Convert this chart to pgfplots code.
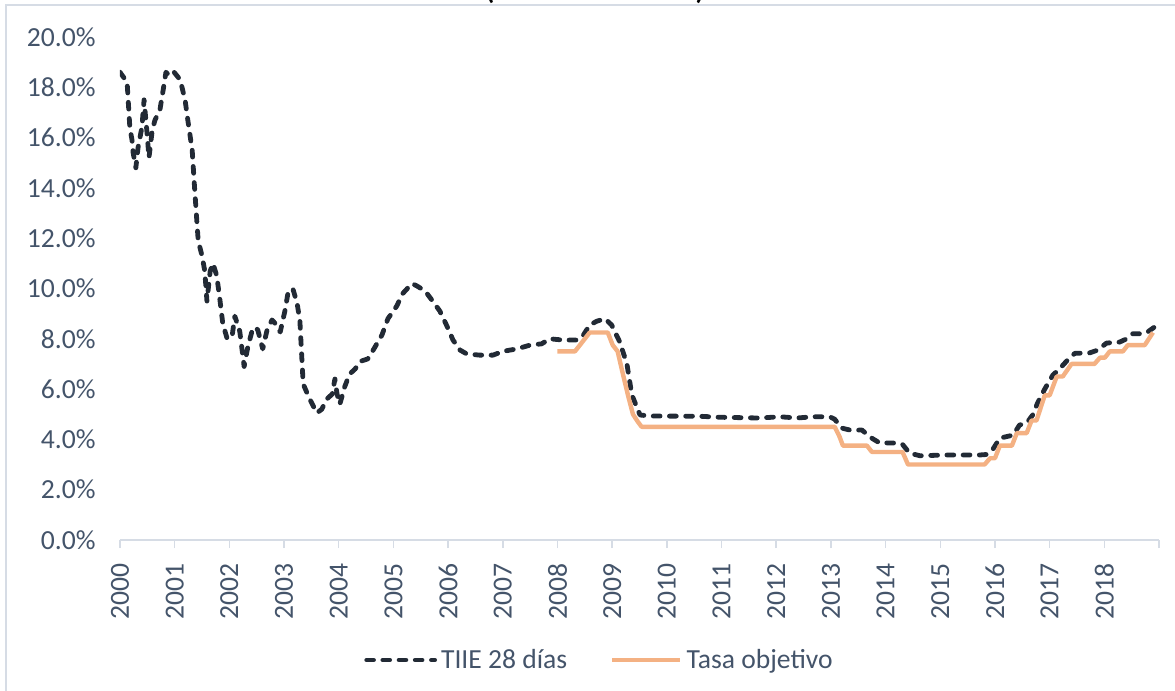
\documentclass[border=0pt]{standalone}
\usepackage{fontspec}
\setmainfont{Carlito}
\usepackage{pgfplots}
\pgfplotsset{compat=1.18}
\definecolor{tiie}{HTML}{222A35}
\definecolor{obj}{HTML}{F4B183}
\definecolor{lbl}{HTML}{44546A}
\definecolor{axl}{HTML}{D6DCE5}
\newcommand{\lblfont}{\fontsize{13.8}{16}\selectfont}
\begin{document}
\begin{tikzpicture}
\begin{axis}[
  scale only axis, width=519.5pt, height=251.5pt,
  xmin=2000, xmax=2019, ymin=0, ymax=20,
  axis lines*=left,
  x axis line style={-, draw=axl, line width=0.75pt},
  y axis line style={draw=none},
  ytick={0,2,4,6,8,10,12,14,16,18,20},
  yticklabels={0.0\%,2.0\%,4.0\%,6.0\%,8.0\%,10.0\%,12.0\%,14.0\%,16.0\%,18.0\%,20.0\%},
  ytick style={draw=none},
  xtick={2000,2001,2002,2003,2004,2005,2006,2007,2008,2009,2010,2011,2012,2013,2014,2015,2016,2017,2018,2019},
  xticklabels={2000,2001,2002,2003,2004,2005,2006,2007,2008,2009,2010,2011,2012,2013,2014,2015,2016,2017,2018,{}},
  xtick style={draw=axl, line width=0.75pt},
  tick align=outside, major tick length=4pt,
  xticklabel shift=7.5pt,
  yticklabel shift=8pt,
  xticklabel style={rotate=90, anchor=east, inner sep=0pt, text=lbl, font=\lblfont},
  yticklabel style={anchor=east, inner sep=0pt, text=lbl, font=\lblfont},
  legend style={at={(0.4625,-0.2386)}, anchor=center, draw=none, fill=none,
    legend columns=2, font=\lblfont, text=lbl,
    /tikz/every even column/.append style={column sep=19.5pt}},
  legend image code/.code={\draw[#1] (0pt,0pt) -- (34pt,0pt);},
]
\addplot[tiie, line width=2.4pt, line cap=round, line join=round, dash pattern=on 3.4pt off 4.7pt] coordinates {
(2000.00,18.6) (2000.13,18.2) (2000.18,16.4) (2000.22,15.9) (2000.24,15.4) (2000.29,14.8) (2000.33,15.6) (2000.40,16.4) (2000.44,17.5) (2000.49,16.3) (2000.53,15.2) (2000.59,16.3) (2000.64,16.7) (2000.73,17.1) (2000.79,17.9) (2000.84,18.6) (2000.91,18.45) (2000.99,18.6)
(2001.10,18.3) (2001.19,17.5) (2001.24,16.7) (2001.32,15.5) (2001.37,13.8) (2001.43,11.9) (2001.50,11.3) (2001.55,10.7) (2001.59,9.5) (2001.65,10.7) (2001.70,11.0) (2001.77,10.5) (2001.83,9.5) (2001.88,8.6) (2001.96,8.0)
(2002.05,8.1) (2002.10,8.9) (2002.19,8.3) (2002.27,6.9) (2002.34,7.7) (2002.41,8.27) (2002.47,8.47) (2002.52,8.35) (2002.61,7.6) (2002.69,8.35) (2002.78,8.75) (2002.83,8.63) (2002.93,8.27)
(2003.02,9.15) (2003.07,9.8) (2003.16,10.0) (2003.24,9.4) (2003.29,8.7) (2003.35,6.2) (2003.47,5.6) (2003.60,5.05) (2003.69,5.2) (2003.78,5.6) (2003.88,5.8) (2003.93,6.4) (2003.97,5.8)
(2004.02,5.4) (2004.11,6.1) (2004.20,6.6) (2004.30,6.8) (2004.39,7.1) (2004.53,7.2) (2004.63,7.55) (2004.79,8.15) (2004.90,8.8)
(2005.06,9.3) (2005.17,9.8) (2005.34,10.2) (2005.43,10.1) (2005.58,9.9) (2005.70,9.55) (2005.85,9.1) (2005.98,8.5)
(2006.09,7.95) (2006.22,7.55) (2006.34,7.4) (2006.58,7.35) (2006.82,7.35) (2007.00,7.5) (2007.26,7.6) (2007.50,7.75) (2007.71,7.8) (2007.86,8.0)
(2008.10,7.95) (2008.35,7.95) (2008.46,8.1) (2008.59,8.55) (2008.72,8.7) (2008.87,8.8) (2008.99,8.55)
(2009.14,7.87) (2009.27,7.0) (2009.36,5.77) (2009.42,5.45) (2009.51,4.97) (2009.69,4.93) (2010.60,4.92) (2010.97,4.88) (2011.70,4.85) (2012.07,4.9) (2012.38,4.85) (2012.67,4.9) (2012.98,4.9)
(2013.07,4.8) (2013.20,4.45) (2013.35,4.37) (2013.57,4.37) (2013.71,4.1) (2013.89,3.86) (2014.13,3.86) (2014.31,3.8) (2014.44,3.45) (2014.63,3.35) (2015.12,3.38) (2015.72,3.38) (2015.85,3.4) (2015.96,3.6)
(2016.09,4.05) (2016.33,4.17) (2016.45,4.57) (2016.58,4.65) (2016.69,4.97) (2016.78,5.45) (2016.91,6.0) (2017.06,6.56) (2017.18,6.8) (2017.33,7.16) (2017.46,7.42) (2017.73,7.44) (2017.88,7.55)
(2018.04,7.83) (2018.28,7.87) (2018.41,8.0) (2018.52,8.2) (2018.70,8.2) (2018.79,8.27) (2018.92,8.47)
};
\addlegendentry{TIIE 28 días}
\addplot[obj, line width=2.2pt, line join=round] coordinates {
(2008.00,7.5) (2008.32,7.5) (2008.59,8.25) (2008.92,8.25) (2009.01,7.75) (2009.10,7.5) (2009.18,6.75) (2009.29,5.75) (2009.38,5.0) (2009.47,4.7) (2009.54,4.5)
(2013.07,4.5) (2013.16,4.1) (2013.22,3.75) (2013.66,3.75) (2013.75,3.5) (2014.31,3.5) (2014.41,3.0) (2015.81,3.0) (2015.91,3.25) (2016.00,3.25)
(2016.09,3.75) (2016.31,3.75) (2016.40,4.25) (2016.58,4.25) (2016.67,4.75) (2016.76,4.75) (2016.91,5.75) (2017.00,5.75) (2017.13,6.5) (2017.24,6.5)
(2017.40,7.0) (2017.82,7.0) (2017.92,7.25) (2018.01,7.25) (2018.10,7.5) (2018.34,7.5) (2018.43,7.75) (2018.74,7.75) (2018.89,8.25)
};
\addlegendentry{Tasa objetivo}
\end{axis}
\draw[axl, line width=0.75pt] (-57pt,-80pt) -- (-57pt,267.5pt) -- (530pt,267.5pt);
\node[font=\bfseries\fontsize{14}{16}\selectfont, anchor=base] at (185pt,270.3pt) {(};
\node[font=\bfseries\fontsize{14}{16}\selectfont, anchor=base] at (290pt,270.3pt) {)};
\pgfresetboundingbox
\useasboundingbox (-60pt,-75.5pt) rectangle (527.5pt,270pt);
\end{tikzpicture}
\end{document}
